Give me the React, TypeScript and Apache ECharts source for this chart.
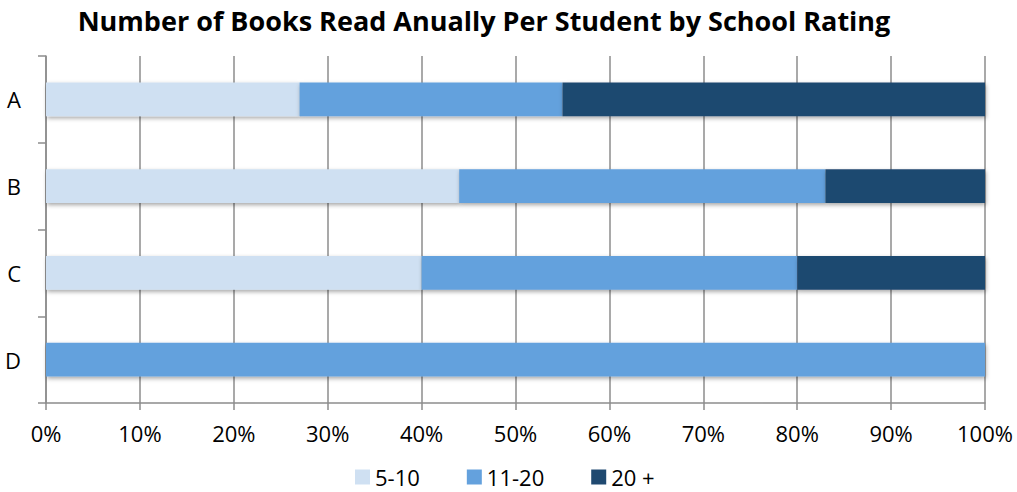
import React, { useEffect, useRef } from "react";
import * as echarts from "echarts";

const categories = ["A", "B", "C", "D"];
const seriesNames = ["5-10", "11-20", "20 +"];
const low = [27, 44, 40, 0];
const mid = [28, 39, 40, 100];
const high = [45, 17, 20, 0];
const colors = ["#CFE0F2", "#64A1DD", "#1F4970"];

export default function App() {
  const ref = useRef<HTMLDivElement>(null);
  useEffect(() => {
    const chart = echarts.init(ref.current!, null, { renderer: "svg" });
    const values = [low, mid, high];
    const font = "'Open Sans'";
    chart.setOption({
      animation: false,
      title: {
        text: "Number of Books Read Anually Per Student by School Rating",
        left: 479,
        textAlign: "center",
        top: 2,
        textStyle: { fontFamily: font, fontWeight: "bold", fontSize: 27, color: "#000" },
      },
      legend: {
        top: 461,
        left: 350,
        itemWidth: 15,
        itemHeight: 15,
        itemGap: 47,
        icon: "rect",
        textStyle: { fontFamily: font, fontSize: 22, color: "#000" },
        data: seriesNames,
      },
      grid: { left: 46, right: 32, top: 56, bottom: 89, containLabel: false },
      xAxis: {
        type: "value",
        min: 0,
        max: 100,
        interval: 10,
        axisLine: { show: true, lineStyle: { color: "#8c8c8c", width: 1.5 } },
        axisTick: { show: true, length: 7, lineStyle: { color: "#8c8c8c", width: 1.5 } },
        splitLine: { show: true, lineStyle: { color: "#8c8c8c", width: 1.5 } },
        axisLabel: {
          formatter: "{value}%",
          fontFamily: font,
          fontSize: 22,
          color: "#000",
          margin: 19,
        },
      },
      yAxis: {
        type: "category",
        data: categories,
        inverse: true,
        axisLine: { show: true, lineStyle: { color: "#8c8c8c", width: 1.5 } },
        axisTick: { show: true, length: 8, lineStyle: { color: "#8c8c8c", width: 1.5 } },
        axisLabel: { fontFamily: font, fontSize: 22, color: "#000", margin: 25 },
      },
      series: seriesNames.map((name, i) => ({
        name,
        type: "bar",
        stack: "total",
        barCategoryGap: "61%",
        data: values[i],
        itemStyle: {
          color: colors[i],
          shadowColor: "rgba(0,0,0,0.35)",
          shadowBlur: 4,
          shadowOffsetY: 2,
          shadowOffsetX: 1,
        },
      })),
    });
    return () => chart.dispose();
  }, []);
  return <div ref={ref} style={{ width: 1017, height: 492, position: "absolute", left: 0, top: 0 }} />;
}
